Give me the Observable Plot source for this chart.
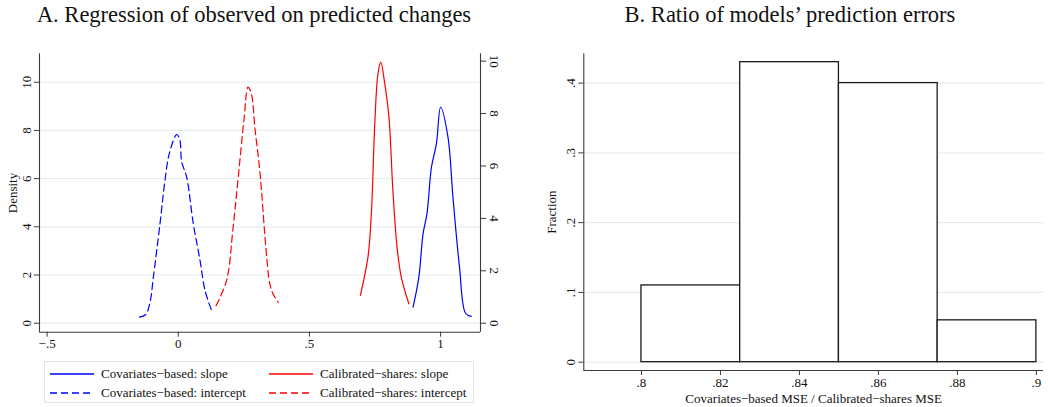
<!DOCTYPE html>
<html>
<head>
<meta charset="utf-8">
<script src="https://cdn.jsdelivr.net/npm/d3@7"></script>
<script src="https://cdn.jsdelivr.net/npm/@observablehq/plot@0.6"></script>
<style>
  html, body { margin: 0; padding: 0; background: #fff; }
  #root { position: relative; width: 1048px; height: 407px; overflow: hidden; font-family: "Liberation Serif", "Times New Roman", serif; color: #111; }
  .title { position: absolute; top: 4px; font-size: 22.5px; line-height: 22px; white-space: nowrap; transform: translateX(-50%); }
  .panel { position: absolute; }
  #legend { position: absolute; left: 44px; top: 361px; width: 430px; height: 42px; border: 1px solid #dde5e8; box-sizing: border-box; }
  .lg-item { position: absolute; font-size: 13px; line-height: 14px; white-space: nowrap; }
  .lg-item svg { position: absolute; left: 0; top: 0; }
  .lg-item span { position: absolute; top: 0; }
</style>
</head>
<body>
<div id="root">
  <div class="title" style="left:254px">A. Regression of observed on predicted changes</div>
  <div class="title" style="left:790px">B. Ratio of models’ prediction errors</div>
  <div id="panelA" class="panel" style="left:0;top:40px;width:500px;height:320px"></div>
  <div id="panelA2" class="panel" style="left:0;top:40px;width:500px;height:320px"></div>
  <div id="panelB" class="panel" style="left:520px;top:40px;width:528px;height:367px"></div>
  <div id="legend"></div>
</div>
<script>
// ---------- Data ----------
// Panel A: kernel densities of regression coefficients
const covInterceptX = [-0.148, -0.125, -0.108, -0.095, -0.070, -0.051, -0.034, -0.006, 0.006, 0.013, 0.032, 0.057, 0.083, 0.102, 0.127];
const covInterceptY = [0.25, 0.35, 0.85, 1.91, 4.1, 5.9, 7.05, 7.83, 7.6, 6.7, 6.06, 4.15, 2.6, 1.36, 0.53];
const calInterceptX = [0.144, 0.184, 0.209, 0.228, 0.250, 0.266, 0.279, 0.292, 0.311, 0.335, 0.349, 0.362, 0.381];
const calInterceptY = [0.73, 1.77, 3.98, 6.0, 8.4, 9.8, 9.5, 8.1, 6.3, 3.0, 1.63, 1.2, 0.87];
const calSlopeX = [0.694, 0.723, 0.736, 0.749, 0.761, 0.772, 0.787, 0.803, 0.818, 0.834, 0.850, 0.879];
const calSlopeY = [1.06, 2.52, 4.18, 7.6, 9.51, 9.96, 9.14, 7.87, 5.07, 2.90, 1.76, 0.74];
const covSlopeX = [0.895, 0.917, 0.933, 0.948, 0.965, 0.984, 1.000, 1.028, 1.047, 1.072, 1.095, 1.117];
const covSlopeY = [0.61, 1.76, 3.41, 4.18, 5.95, 6.85, 8.24, 7.10, 4.81, 2.14, 0.38, 0.26];

const seriesNames = ["Covariates\u2212based: slope", "Calibrated\u2212shares: slope", "Covariates\u2212based: intercept", "Calibrated\u2212shares: intercept"];
const seriesColors = ["#0000ff", "#ff0000", "#0000ff", "#ff0000"];
const seriesDashed = [false, false, true, true];

const xTicksA = [-0.5, 0, 0.5, 1];
const yTicksLeft = [0, 2, 4, 6, 8, 10];
const yTicksRight = [0, 2, 4, 6, 8, 10];

// Panel B: histogram of MSE ratio
const binStart = [0.8, 0.825, 0.85, 0.875];
const binEnd = [0.825, 0.85, 0.875, 0.9];
const binFraction = [0.11, 0.43, 0.40, 0.06];
const xTicksB = [0.8, 0.82, 0.84, 0.86, 0.88, 0.9];
const yTicksB = [0, 0.1, 0.2, 0.3, 0.4];

// ---------- Scale domains ----------
const xDomA = [-0.529, 1.152];
const yDomLeft = [-0.373, 11.18];
const yDomRight = [-0.343, 10.28];
const xDomB = [0.7854, 0.9018];
const yDomB = [-0.0119, 0.442];

const FONT = "Liberation Serif";
const GRID = "#e6edef";
const AXIS = "#3a3a3a";

const stataFmt = d => {
  if (d === 0) return "0";
  let s = String(+d.toFixed(4));
  s = s.replace(/^(-?)0\./, "$1.");
  return s.replace("-", "\u2212");
};

const zip = (xs, ys) => xs.map((x, i) => ({x, y: ys[i]}));
const solidSeries = [
  {data: zip(covSlopeX, covSlopeY), idx: 0},
  {data: zip(calSlopeX, calSlopeY), idx: 1}
];
const dashedSeries = [
  {data: zip(covInterceptX, covInterceptY), idx: 2},
  {data: zip(calInterceptX, calInterceptY), idx: 3}
];

const baseStyle = {fontFamily: FONT, fontSize: "13px", background: "transparent", color: "#111", overflow: "visible"};

// Panel A, left axis (intercepts, dashed)
const plotA = Plot.plot({
  width: 500, height: 320,
  marginLeft: 39, marginRight: 20, marginTop: 13.3, marginBottom: 28.3,
  style: baseStyle,
  x: {domain: xDomA},
  y: {domain: yDomLeft},
  marks: [
    Plot.gridY(yTicksLeft, {stroke: GRID, strokeOpacity: 1, strokeWidth: 1.2}),
    Plot.ruleY([yDomLeft[0]], {stroke: AXIS, strokeWidth: 1.1}),
    Plot.ruleX([xDomA[0]], {stroke: AXIS, strokeWidth: 1.1}),
    Plot.axisX(xTicksA, {tickSize: 5, tickPadding: 2, tickFormat: stataFmt, stroke: AXIS, label: null}),
    Plot.axisY(yTicksLeft, {anchor: "left", tickSize: 5, tickPadding: 4, tickRotate: -90, textAnchor: "middle", lineAnchor: "bottom",
      tickFormat: stataFmt, stroke: AXIS, label: "Density", labelAnchor: "center", labelArrow: "none", labelOffset: 32}),
    ...dashedSeries.map(s => Plot.line(s.data, {x: "x", y: "y", stroke: seriesColors[s.idx], strokeWidth: 1.2, strokeDasharray: "7,4", curve: "catmull-rom"}))
  ]
});
document.getElementById("panelA").appendChild(plotA);

// Panel A, right axis (slopes, solid)
const plotA2 = Plot.plot({
  width: 500, height: 320,
  marginLeft: 39, marginRight: 20, marginTop: 13.3, marginBottom: 28.3,
  style: baseStyle,
  x: {domain: xDomA, axis: null},
  y: {domain: yDomRight},
  marks: [
    Plot.ruleX([xDomA[1]], {stroke: AXIS, strokeWidth: 1.1}),
    Plot.axisY(yTicksRight, {anchor: "right", tickSize: 5, tickPadding: 4, tickRotate: 90, textAnchor: "middle", lineAnchor: "bottom",
      tickFormat: stataFmt, stroke: AXIS, label: null}),
    ...solidSeries.map(s => Plot.line(s.data, {x: "x", y: "y", stroke: seriesColors[s.idx], strokeWidth: 1.2, curve: "catmull-rom"}))
  ]
});
document.getElementById("panelA2").appendChild(plotA2);

// Panel B histogram
const bins = binStart.map((b, i) => ({x1: b, x2: binEnd[i], y: binFraction[i]}));
const plotB = Plot.plot({
  width: 528, height: 367,
  marginLeft: 63.3, marginRight: 5, marginTop: 13.3, marginBottom: 37,
  style: baseStyle,
  x: {domain: xDomB},
  y: {domain: yDomB},
  marks: [
    Plot.gridY(yTicksB, {stroke: GRID, strokeOpacity: 1, strokeWidth: 1.2}),
    Plot.rectY(bins, {x1: "x1", x2: "x2", y1: 0, y2: "y", fill: "white", stroke: "#1a1a1a", strokeWidth: 1.3}),
    Plot.ruleY([yDomB[0]], {stroke: AXIS, strokeWidth: 1.1}),
    Plot.ruleX([xDomB[0]], {stroke: AXIS, strokeWidth: 1.1}),
    Plot.axisX(xTicksB, {tickSize: 5, tickPadding: 2, tickFormat: stataFmt, stroke: AXIS,
      label: "Covariates\u2212based MSE / Calibrated\u2212shares MSE", labelAnchor: "center", labelArrow: "none", labelOffset: 32}),
    Plot.axisY(yTicksB, {anchor: "left", tickSize: 5, tickPadding: 4, tickRotate: -90, textAnchor: "middle", lineAnchor: "bottom",
      tickFormat: stataFmt, stroke: AXIS, label: "Fraction", labelAnchor: "center", labelArrow: "none", labelOffset: 37})
  ]
});
document.getElementById("panelB").appendChild(plotB);

// Legend
const legend = document.getElementById("legend");
const legendPos = [[4, 5], [223, 5], [4, 24], [223, 24]];
seriesNames.forEach((name, i) => {
  const item = document.createElement("div");
  item.className = "lg-item";
  item.style.left = legendPos[i][0] + "px";
  item.style.top = legendPos[i][1] + "px";
  const dash = seriesDashed[i] ? ' stroke-dasharray="7,4"' : "";
  item.innerHTML = `<svg width="46" height="14"><line x1="1" y1="7" x2="45" y2="7" stroke="${seriesColors[i]}" stroke-width="1.3"${dash}/></svg><span style="left:52px">${name}</span>`;
  legend.appendChild(item);
});
</script>
</body>
</html>
